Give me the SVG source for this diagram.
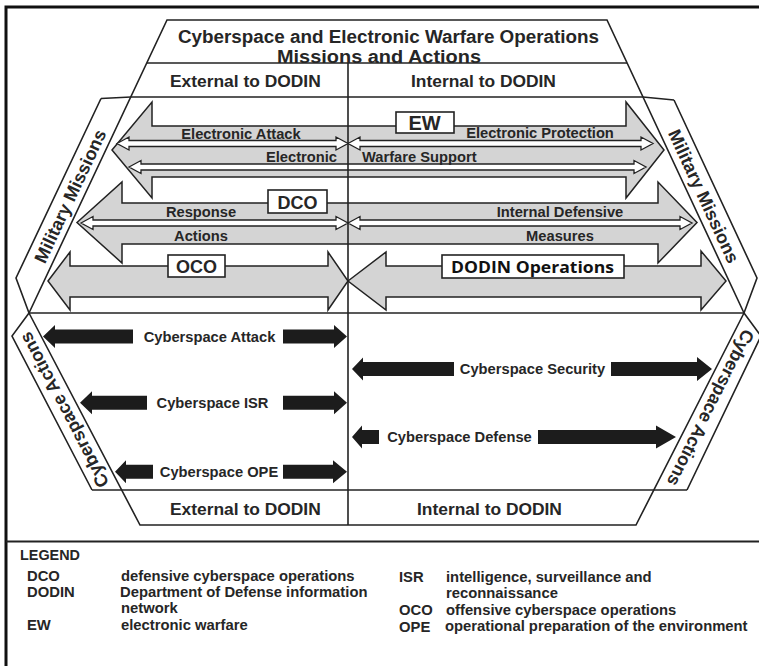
<svg xmlns="http://www.w3.org/2000/svg" width="759" height="666" viewBox="0 0 759 666">
  <style>
    .ln { fill: none; stroke: #222; stroke-width: 1.6; stroke-linejoin: miter; }
    .frame { fill: none; stroke: #111; stroke-width: 3; }
    .gray { fill: #d4d4d4; stroke: #222; stroke-width: 1.5; stroke-linejoin: miter; }
    .thin { fill: #fff; stroke: #222; stroke-width: 1.3; stroke-linejoin: miter; }
    .blk { fill: #1c1c1c; }
    .box { fill: #fff; stroke: #222; stroke-width: 1.6; }
    text { font-family: "Liberation Sans", Arial, sans-serif; font-weight: bold; fill: #262626; }
    .t { font-size: 17.5px; }
    .hd { font-size: 17.4px; }
    .lb { font-size: 14.7px; }
    .bx { font-size: 18px; }
    .band { font-size: 18px; text-anchor: middle; }
    .lg { font-size: 14.8px; }
    .mid { text-anchor: middle; }
  </style>

  <rect width="759" height="666" fill="#fff"/>

  <!-- outer frame and legend separator -->
  <g id="frame">
    <path class="frame" d="M6,666 V7 H759"/>
    <path d="M6,541.5 H759" stroke="#222" stroke-width="2"/>
  </g>

  <!-- hexagon outline, bands and section rules -->
  <g id="outline" class="ln">
    <path d="M29,313 L167,20 L607,20 L744,313"/>
    <path d="M29,313 L140,525 L636,525 L744,313"/>
    <path d="M147,63 H627"/>
    <path d="M101,98.5 L131,97 H643 L674,100"/>
    <path d="M101,98.5 L16,278 L29,313"/>
    <path d="M674,100 L757,278 L744,313"/>
    <path d="M29,313 H744"/>
    <path d="M29,313 L12,336 L92,490"/>
    <path d="M744,313 L761,336 L687,490"/>
    <path d="M92,490 H687"/>
  </g>

  <!-- title and column headers -->
  <g id="title">
    <text class="t" x="178" y="42.5" textLength="421" lengthAdjust="spacingAndGlyphs">Cyberspace and Electronic Warfare Operations</text>
    <text class="t" x="277" y="62.5" textLength="204" lengthAdjust="spacingAndGlyphs">Missions and Actions</text>
    <text class="hd" x="170" y="87">External to DODIN</text>
    <text class="hd" x="411" y="87">Internal to DODIN</text>
    <text class="hd" x="170" y="515">External to DODIN</text>
    <text class="hd" x="417" y="515">Internal to DODIN</text>
  </g>

  <!-- side bands -->
  <g id="military-missions-left">
    <text class="band" transform="translate(70,196) rotate(-64.8)" y="6.5">Military Missions</text>
  </g>
  <g id="military-missions-right">
    <text class="band" transform="translate(704,196) rotate(65.2)" y="6.5">Military Missions</text>
  </g>
  <g id="cyberspace-actions-left">
    <text class="band" transform="translate(64,410) rotate(-117.5)" y="6.5">Cyberspace Actions</text>
  </g>
  <g id="cyberspace-actions-right">
    <text class="band" transform="translate(711,408) rotate(116.6)" y="6.5">Cyberspace Actions</text>
  </g>

  <!-- mission arrows -->
  <g id="connectors">
    <g id="ew">
      <polygon class="gray" points="112,150 152,102 152,126 626,126 626,102 664,150 626,198 626,177 152,177 152,198"/>
      <polygon class="thin" points="117,143.5 129,137 129,140.5 336,140.5 336,137 348,143.5 336,150 336,146.5 129,146.5 129,150"/>
      <polygon class="thin" points="348,143.5 360,137 360,140.5 641,140.5 641,137 653,143.5 641,150 641,146.5 360,146.5 360,150"/>
      <polygon class="thin" points="129,167 141,160.5 141,164 634,164 634,160.5 646,167 634,173.5 634,170 141,170 141,173.5"/>
    </g>
    <g id="dco">
      <polygon class="gray" points="77,222.5 122,182 122,203 658,203 658,182 697,222.5 658,263 658,244 122,244 122,263"/>
      <polygon class="thin" points="81,223 93,216.5 93,220 336,220 336,216.5 348,223 336,229.5 336,226 93,226 93,229.5"/>
      <polygon class="thin" points="348,223 360,216.5 360,220 680,220 680,216.5 692,223 680,229.5 680,226 360,226 360,229.5"/>
    </g>
    <g id="oco">
      <polygon class="gray" points="48,281 70,252 70,266 328,266 328,252 348,281 328,310 328,297 70,297 70,310"/>
    </g>
    <g id="dodin-operations">
      <polygon class="gray" points="348,281 386,252 386,266 701,266 701,251 726,281 701,310 701,297 386,297 386,310"/>
    </g>

    <!-- cyberspace action arrows -->
    <g id="cyberspace-attack" class="blk">
      <polygon points="43,336.5 55,325 55,329.5 133,329.5 133,343.5 55,343.5 55,348"/>
      <polygon points="283,329.5 334,329.5 334,325 347,336.5 334,348 334,343.5 283,343.5"/>
    </g>
    <g id="cyberspace-isr" class="blk">
      <polygon points="80,402.7 92,391.2 92,395.7 147,395.7 147,409.7 92,409.7 92,414.2"/>
      <polygon points="283,395.7 334,395.7 334,391.2 347,402.7 334,414.2 334,409.7 283,409.7"/>
    </g>
    <g id="cyberspace-ope" class="blk">
      <polygon points="115,471.7 126,460.2 126,464.7 153,464.7 153,478.7 126,478.7 126,483.2"/>
      <polygon points="283,464.7 333,464.7 333,460.2 347,471.7 333,483.2 333,478.7 283,478.7"/>
    </g>
    <g id="cyberspace-security" class="blk">
      <polygon points="352,369 363,357.5 363,362 454,362 454,376 363,376 363,380.5"/>
      <polygon points="611,362 697,362 697,357 712,369 697,381 697,376 611,376"/>
    </g>
    <g id="cyberspace-defense" class="blk">
      <polygon points="352,437 362,425.5 362,430 379,430 379,444 362,444 362,448.5"/>
      <polygon points="538,430 656,430 656,425.5 676,437 656,448.5 656,444 538,444"/>
    </g>
  </g>

  <!-- column divider -->
  <path class="ln" d="M348,63 V525"/>

  <!-- arrow labels -->
  <g id="labels" class="lb">
    <text class="lb mid" x="241" y="139">Electronic Attack</text>
    <text class="lb mid" x="540" y="138">Electronic Protection</text>
    <text class="lb" x="337" y="162" text-anchor="end">Electronic</text>
    <text class="lb" x="362" y="162">Warfare Support</text>
    <text class="lb mid" x="201" y="217">Response</text>
    <text class="lb mid" x="201" y="241">Actions</text>
    <text class="lb mid" x="560" y="217">Internal Defensive</text>
    <text class="lb mid" x="560" y="241">Measures</text>
    <text class="lb mid" x="209.5" y="341.8">Cyberspace Attack</text>
    <text class="lb mid" x="212.5" y="408">Cyberspace ISR</text>
    <text class="lb mid" x="219" y="477">Cyberspace OPE</text>
    <text class="lb mid" x="532.5" y="374.3">Cyberspace Security</text>
    <text class="lb mid" x="459.5" y="442.3">Cyberspace Defense</text>
  </g>

  <!-- name boxes -->
  <g id="ew-box">
    <rect class="box" x="396" y="112" width="58" height="21"/>
    <text class="mid" x="424.5" y="130" style="font-size:20px">EW</text>
  </g>
  <g id="dco-box">
    <rect class="box" x="268" y="190" width="59" height="23"/>
    <text class="bx mid" x="297.5" y="208.5">DCO</text>
  </g>
  <g id="oco-box">
    <rect class="box" x="168" y="255" width="57" height="22"/>
    <text class="bx mid" x="196.5" y="272.5">OCO</text>
  </g>
  <g id="dodin-ops-box">
    <rect class="box" x="442" y="255" width="182" height="23"/>
    <text x="451" y="273" style="font-family:'Open Sans','Liberation Sans',sans-serif;font-size:16.5px;fill:#111" textLength="163" lengthAdjust="spacingAndGlyphs">DODIN Operations</text>
  </g>

  <!-- legend -->
  <g id="legend" class="lg">
    <text class="lg" x="20" y="560" style="font-size:14.4px">LEGEND</text>
    <text class="lg" x="27" y="581">DCO</text>
    <text class="lg" x="121" y="581">defensive cyberspace operations</text>
    <text class="lg" x="27" y="597">DODIN</text>
    <text class="lg" x="120" y="597">Department of Defense information</text>
    <text class="lg" x="121" y="613">network</text>
    <text class="lg" x="27" y="630">EW</text>
    <text class="lg" x="121" y="630">electronic warfare</text>
    <text class="lg" x="399" y="582">ISR</text>
    <text class="lg" x="446" y="582">intelligence, surveillance and</text>
    <text class="lg" x="446" y="598">reconnaissance</text>
    <text class="lg" x="399" y="615">OCO</text>
    <text class="lg" x="446" y="615">offensive cyberspace operations</text>
    <text class="lg" x="399" y="632">OPE</text>
    <text class="lg" x="445" y="631">operational preparation of the environment</text>
  </g>
</svg>
